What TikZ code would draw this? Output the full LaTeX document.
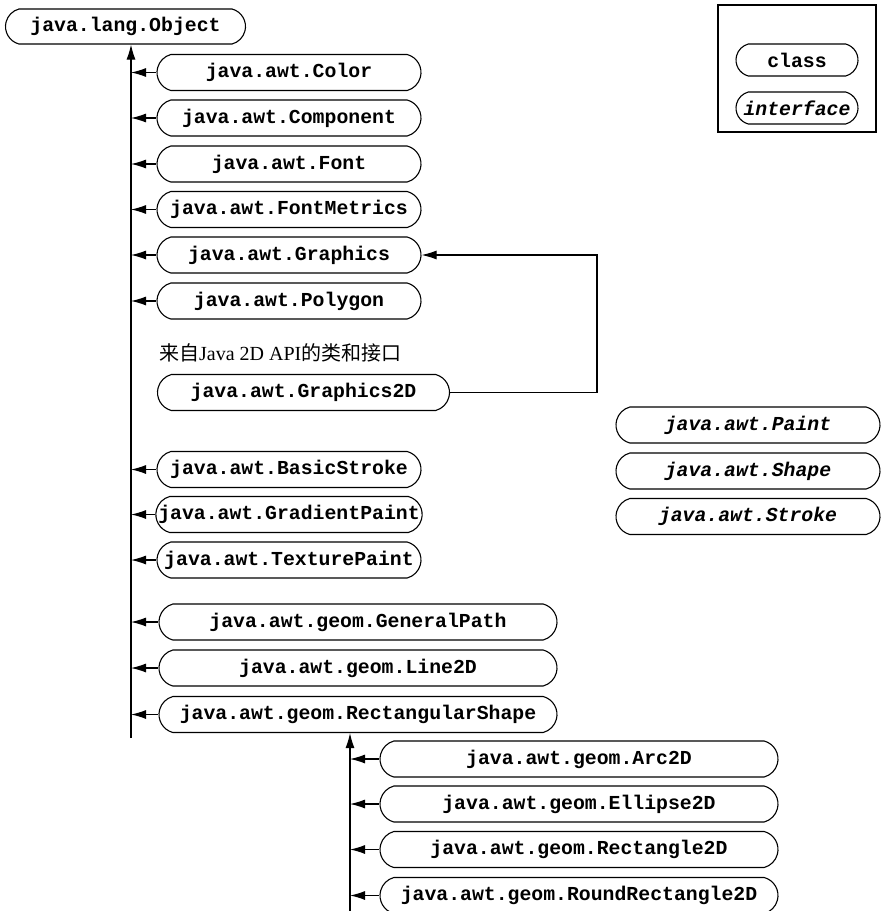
\documentclass[tikz,border=0pt]{standalone}
\usepackage{fontspec}
\setmainfont{Liberation Serif}
\newfontfamily\monofam{Liberation Mono}
\newfontfamily\cjkfam{Noto Sans CJK SC}
\usetikzlibrary{shapes.misc,arrows.meta}
\tikzset{
  cls/.style={rounded rectangle, rounded rectangle arc length=150, draw, line width=1.1pt,
    minimum height=36pt, inner sep=0pt, font=\monofam\bfseries\fontsize{19.8}{22}\selectfont},
  ifc/.style={cls, font=\monofam\bfseries\itshape\fontsize{19.8}{22}\selectfont},
  wA/.style={minimum width=264pt},
  wB/.style={minimum width=292pt},
  wC/.style={minimum width=398pt},
  wD/.style={minimum width=264pt},
  conn/.style={line width=1.1pt},
  arr/.style={conn, -{Latex[length=15pt,width=9pt]}},
}
\begin{document}
\begin{tikzpicture}[x=1pt,y=-1pt]
\useasboundingbox (0,0) rectangle (881,911);
% legend
\node[draw, line width=1.1pt, minimum width=158pt, minimum height=127pt, inner sep=0pt] (legend) at (797,68.5) {};
\node[cls, minimum width=122pt, minimum height=32pt] (lclass) at (797,60) {class};
\node[ifc, minimum width=122pt, minimum height=32pt] (liface) at (797,108) {interface};
% root
\node[cls, minimum width=240pt, minimum height=35pt] (obj) at (125.5,26.5) {java.lang.Object};
% first level
\node[cls, wA] (color) at (289,72.5) {java.awt.Color};
\node[cls, wA] (component) at (289,118) {java.awt.Component};
\node[cls, wA] (font) at (289,164) {java.awt.Font};
\node[cls, wA] (fontmetrics) at (289,209.5) {java.awt.FontMetrics};
\node[cls, wA] (graphics) at (289,255) {java.awt.Graphics};
\node[cls, wA] (polygon) at (289,301) {java.awt.Polygon};
\node[anchor=west, inner sep=0pt, font=\fontsize{20}{22}\selectfont] (note) at (159,353)
  {{\cjkfam 来自}Java 2D API{\cjkfam 的类和接口}};
\node[cls, wB] (g2d) at (303.5,392.5) {java.awt.Graphics2D};
\node[cls, wA] (basicstroke) at (289,469.5) {java.awt.BasicStroke};
\node[cls, wA] (gradient) at (289,514.5) {java.awt.GradientPaint};
\node[cls, wA] (texture) at (289,560) {java.awt.TexturePaint};
\node[cls, wC] (genpath) at (358,622) {java.awt.geom.GeneralPath};
\node[cls, wC] (line2d) at (358,668) {java.awt.geom.Line2D};
\node[cls, wC] (rectshape) at (358,714.5) {java.awt.geom.RectangularShape};
% second level
\node[cls, wC] (arc) at (579,759) {java.awt.geom.Arc2D};
\node[cls, wC] (ellipse) at (579,804) {java.awt.geom.Ellipse2D};
\node[cls, wC] (rect2d) at (579,849.5) {java.awt.geom.Rectangle2D};
\node[cls, wC] (roundrect) at (579,895.5) {java.awt.geom.RoundRectangle2D};
% interfaces
\node[ifc, wD] (paint) at (748,425) {java.awt.Paint};
\node[ifc, wD] (shape) at (748,471) {java.awt.Shape};
\node[ifc, wD] (stroke) at (748,516.5) {java.awt.Stroke};
% trunks
\coordinate (t1) at (131,738);
\coordinate (t2) at (350,911);
\draw[arr] (t1) -- (t1 |- obj.south);
\draw[arr] (t2) -- (t2 |- rectshape.south);
\foreach \n in {color,component,font,fontmetrics,graphics,polygon,basicstroke,gradient,texture,genpath,line2d,rectshape}
  \draw[arr] (\n.west) -- (\n.west -| t1);
\foreach \n in {arc,ellipse,rect2d,roundrect}
  \draw[arr] (\n.west) -- (\n.west -| t2);
\coordinate (gcorner) at (597,392.5);
\draw[arr] (g2d.east) -- (gcorner) |- (graphics.east);
\end{tikzpicture}
\end{document}
